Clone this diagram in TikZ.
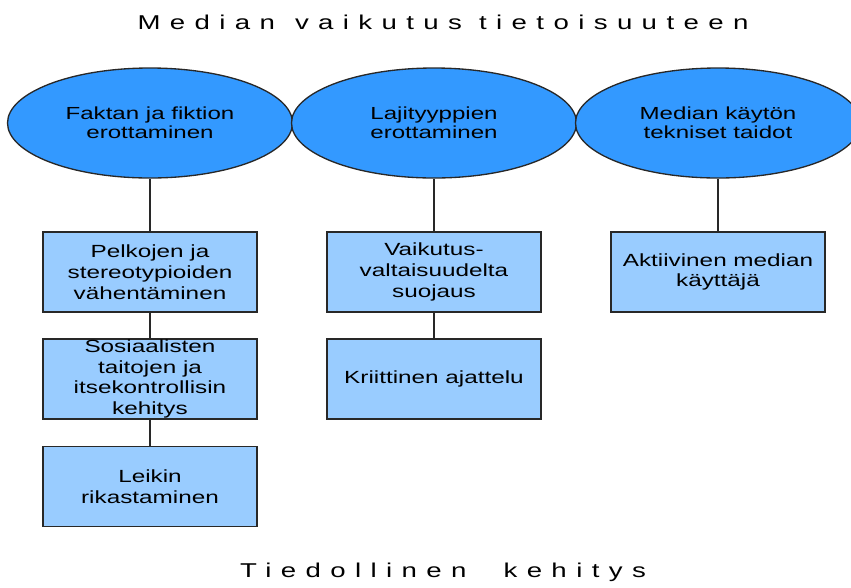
\documentclass[tikz,border=0pt]{standalone}
\usepackage{fontspec}
\setmainfont{Liberation Sans}[FakeStretch=1.38]
\newfontfamily\otsikkofont{Liberation Sans}[FakeStretch=1.38,LetterSpace=47]
\usetikzlibrary{arrows.meta,shapes.geometric}
\definecolor{teemasini}{RGB}{51,153,255}
\definecolor{vaaleasini}{RGB}{153,204,255}
\definecolor{reuna}{RGB}{40,40,40}
\tikzset{
    >=Stealth,
    kaavio/.style={
        x=0.75pt,y=-0.75pt,
        teema/.append style={align=center,draw=reuna,line width=1pt,ellipse,fill=teemasini,minimum width=213.75pt,minimum height=82.5pt,inner sep=0pt,font=\fontsize{13.1}{14}\selectfont},
        taito/.append style={align=center,draw=reuna,line width=1pt,rectangle,fill=vaaleasini,minimum width=160.5pt,minimum height=60pt,inner sep=0pt,font=\fontsize{13.2}{15.6}\selectfont},
        otsikko/.append style={align=center,font=\fontsize{15}{18}\otsikkofont},
        every edge/.append style={draw=reuna,line width=0.9pt}
    }
}

\begin{document}
\begin{tikzpicture}[kaavio]
    \useasboundingbox (0,0) rectangle (851,587);
    \node[otsikko] (ylaotsikko) at (443,22) {Median\quad vaikutus tietoisuuteen};
    \node[teema] (fakta) at (150,123) {Faktan ja fiktion\\erottaminen};
    \node[teema] (laji) at (434,123) {Lajityyppien\\erottaminen};
    \node[teema] (tekn) at (718,123) {Median käytön\\tekniset taidot};
    \node[taito] (pelko) at (150,272) {Pelkojen ja\\stereotypioiden\\vähentäminen} edge (fakta);
    \node[taito] (sosi) at (150,379) {Sosiaalisten\\taitojen ja\\itsekontrollisin\\kehitys} edge (pelko);
    \node[taito] (leikki) at (150,486.5) {Leikin\\rikastaminen} edge (sosi);
    \node[taito] (vaik) at (434,272) {Vaikutus-\\valtaisuudelta\\suojaus} edge (laji);
    \node[taito] (kriit) at (434,379) {Kriittinen ajattelu} edge (vaik);
    \node[taito] (aktiv) at (718,272) {Aktiivinen median\\käyttäjä} edge (tekn);
    \node[otsikko] (alaotsikko) at (443,572) {Tiedollinen\hspace{1em} kehitys};
\end{tikzpicture}
\end{document}
